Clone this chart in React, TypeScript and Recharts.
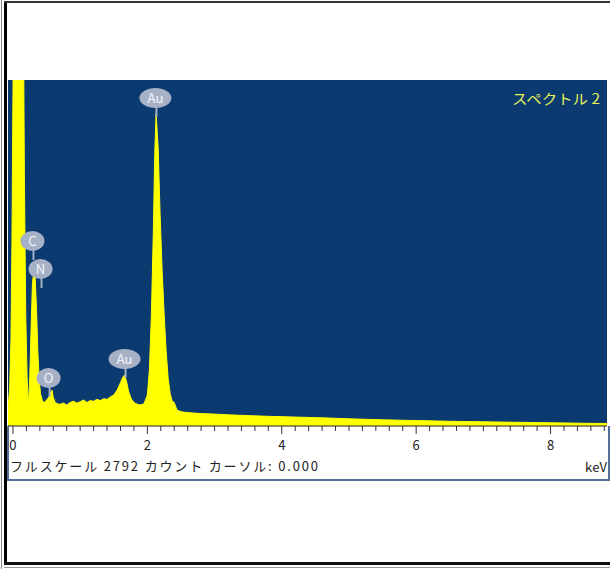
import { Area, AreaChart, ReferenceDot, XAxis, YAxis } from 'recharts';

// EDS spectrum, energy in keV and counts per channel
const energyKeV = [
  -0.074, -0.05, -0.03, -0.015, 0, 0.03, 0.06, 0.12, 0.15, 0.17, 0.19, 0.21, 0.23,
  0.25, 0.27, 0.29, 0.31, 0.33, 0.35, 0.37, 0.39, 0.41, 0.44, 0.47, 0.5, 0.53,
  0.56, 0.58, 0.6, 0.63, 0.66, 0.7, 0.75, 0.8, 0.85, 0.9, 0.95, 1.0, 1.05,
  1.1, 1.15, 1.2, 1.25, 1.3, 1.35, 1.4, 1.45, 1.5, 1.55, 1.6, 1.64, 1.66,
  1.69, 1.72, 1.76, 1.8, 1.85, 1.9, 1.95, 2.0, 2.03, 2.06, 2.09, 2.11, 2.13,
  2.16, 2.19, 2.22, 2.25, 2.28, 2.31, 2.34, 2.37, 2.4, 2.44, 2.5, 2.6, 2.8,
  3.0, 3.2, 3.5, 3.8, 4.2, 4.6, 5.0, 5.5, 6.0, 6.5, 7.0, 7.5, 8.0, 8.5, 8.84,
];
const counts = [
  150, 300, 700, 1500, 2700, 4600, 5000, 5000, 3800, 2000, 900, 400, 160,
  400, 800, 1150, 1250, 1200, 950, 600, 380, 260, 200, 190, 210, 230,
  270, 290, 230, 190, 180, 175, 185, 170, 190, 200, 185, 195, 210,
  190, 205, 200, 215, 205, 220, 215, 235, 250, 290, 350, 400, 410,
  360, 280, 220, 190, 175, 170, 180, 250, 450, 900, 1600, 2200, 2520,
  2250, 1700, 1250, 900, 600, 380, 260, 200, 190, 130, 115, 108, 100,
  96, 90, 84, 78, 72, 66, 58, 50, 44, 38, 34, 30, 26, 22, 20,
];
const fullScale = 2792;

const peakNames = ['C', 'N', 'O', 'Au', 'Au'];
const peakEnergies = [0.29, 0.41, 0.53, 1.66, 2.12];
const peakTagCounts = [1493, 1267, 387, 541, 2647];

const majorTicks = [0, 2, 4, 6, 8];
const minorTicks = Array.from({ length: 45 }, (_, i) => Math.round(i * 2) / 10);

const spectrum = energyKeV.map((e, i) => ({ e, c: counts[i] }));

const AxisTick = ({ x, y, payload }: any) => {
  const v = Math.round(payload.value * 10) / 10;
  const major = majorTicks.includes(v);
  return (
    <g>
      <line x1={x} x2={x} y1={y} y2={y + (major ? 8 : 5)} stroke="#333" />
      {major && (
        <text x={x} y={y + 24} textAnchor="middle" fontSize={13} fill="#222">
          {v}
        </text>
      )}
    </g>
  );
};

const PeakTag = ({ cx, cy, name }: any) => {
  const rx = name.length > 1 ? 16 : 12;
  return (
    <g>
      <line x1={cx + 1} x2={cx + 1} y1={cy + 8} y2={cy + 19} stroke="#A7B1C6" strokeWidth={2} />
      <ellipse cx={cx} cy={cy} rx={rx} ry={10} fill="#A7B1C6" />
      <text x={cx} y={cy + 5} textAnchor="middle" fontSize={13} fill="#F4F5FA">
        {name}
      </text>
    </g>
  );
};

export default function App() {
  return (
    <div
      style={{
        position: 'absolute',
        left: 0,
        top: 0,
        width: 610,
        height: 569,
        background: '#fff',
        overflow: 'hidden',
        fontFamily: '"Noto Sans CJK JP", "Noto Sans", sans-serif',
      }}
    >
      {/* outer frame */}
      <div style={{ position: 'absolute', left: 1, top: 0, width: 1, height: 569, background: '#888' }} />
      <div style={{ position: 'absolute', left: 4, top: 1, width: 3, height: 564, background: '#000' }} />
      <div style={{ position: 'absolute', left: 4, top: 1, width: 606, height: 2, background: '#333' }} />
      <div style={{ position: 'absolute', left: 4, top: 562, width: 606, height: 3, background: '#111' }} />
      <div style={{ position: 'absolute', left: 4, top: 567, width: 606, height: 1, background: '#999' }} />

      {/* spectrum panel */}
      <div style={{ position: 'absolute', left: 8, top: 80, width: 599, height: 346, background: '#0A3A70' }} />
      <div
        style={{
          position: 'absolute',
          left: 7,
          top: 426,
          width: 599,
          height: 53,
          background: '#fff',
          borderLeft: '2px solid #54709A',
          borderRight: '2px solid #54709A',
          borderBottom: '2px solid #54709A',
        }}
      />

      <div style={{ position: 'absolute', left: 8, top: 80 }}>
        <AreaChart width={601} height={400} data={spectrum} margin={{ top: 0, right: 2, bottom: 0, left: 0 }}>
          <XAxis
            dataKey="e"
            type="number"
            domain={[-0.074, 8.84]}
            allowDataOverflow
            ticks={minorTicks}
            interval={0}
            tick={<AxisTick />}
            tickLine={false}
            tickSize={0}
            tickMargin={0}
            height={54}
            axisLine={{ stroke: '#222' }}
          />
          <YAxis hide domain={[0, fullScale]} allowDataOverflow />
          <Area
            type="linear"
            dataKey="c"
            stroke="#FFFF00"
            fill="#FFFF00"
            fillOpacity={1}
            isAnimationActive={false}
          />
          {peakNames.map((name, i) => (
            <ReferenceDot
              key={i}
              x={peakEnergies[i]}
              y={peakTagCounts[i]}
              ifOverflow="visible"
              shape={(p: any) => <PeakTag cx={p.cx} cy={p.cy} name={name} />}
            />
          ))}
        </AreaChart>
      </div>

      <svg
        width={610}
        height={569}
        style={{ position: 'absolute', left: 0, top: 0, pointerEvents: 'none' }}
      >
        <text x={512} y={104} fontSize={14} fill="#E6F25A" textLength={88} lengthAdjust="spacingAndGlyphs">
          スペクトル 2
        </text>
        <text x={10} y={471} fontSize={13} fill="#222" textLength={308} lengthAdjust="spacing">
          {`フルスケール ${fullScale} カウント カーソル: 0.000`}
        </text>
        <text x={585} y={472} fontSize={13} fill="#222" textLength={22} lengthAdjust="spacing">
          keV
        </text>
      </svg>
    </div>
  );
}
